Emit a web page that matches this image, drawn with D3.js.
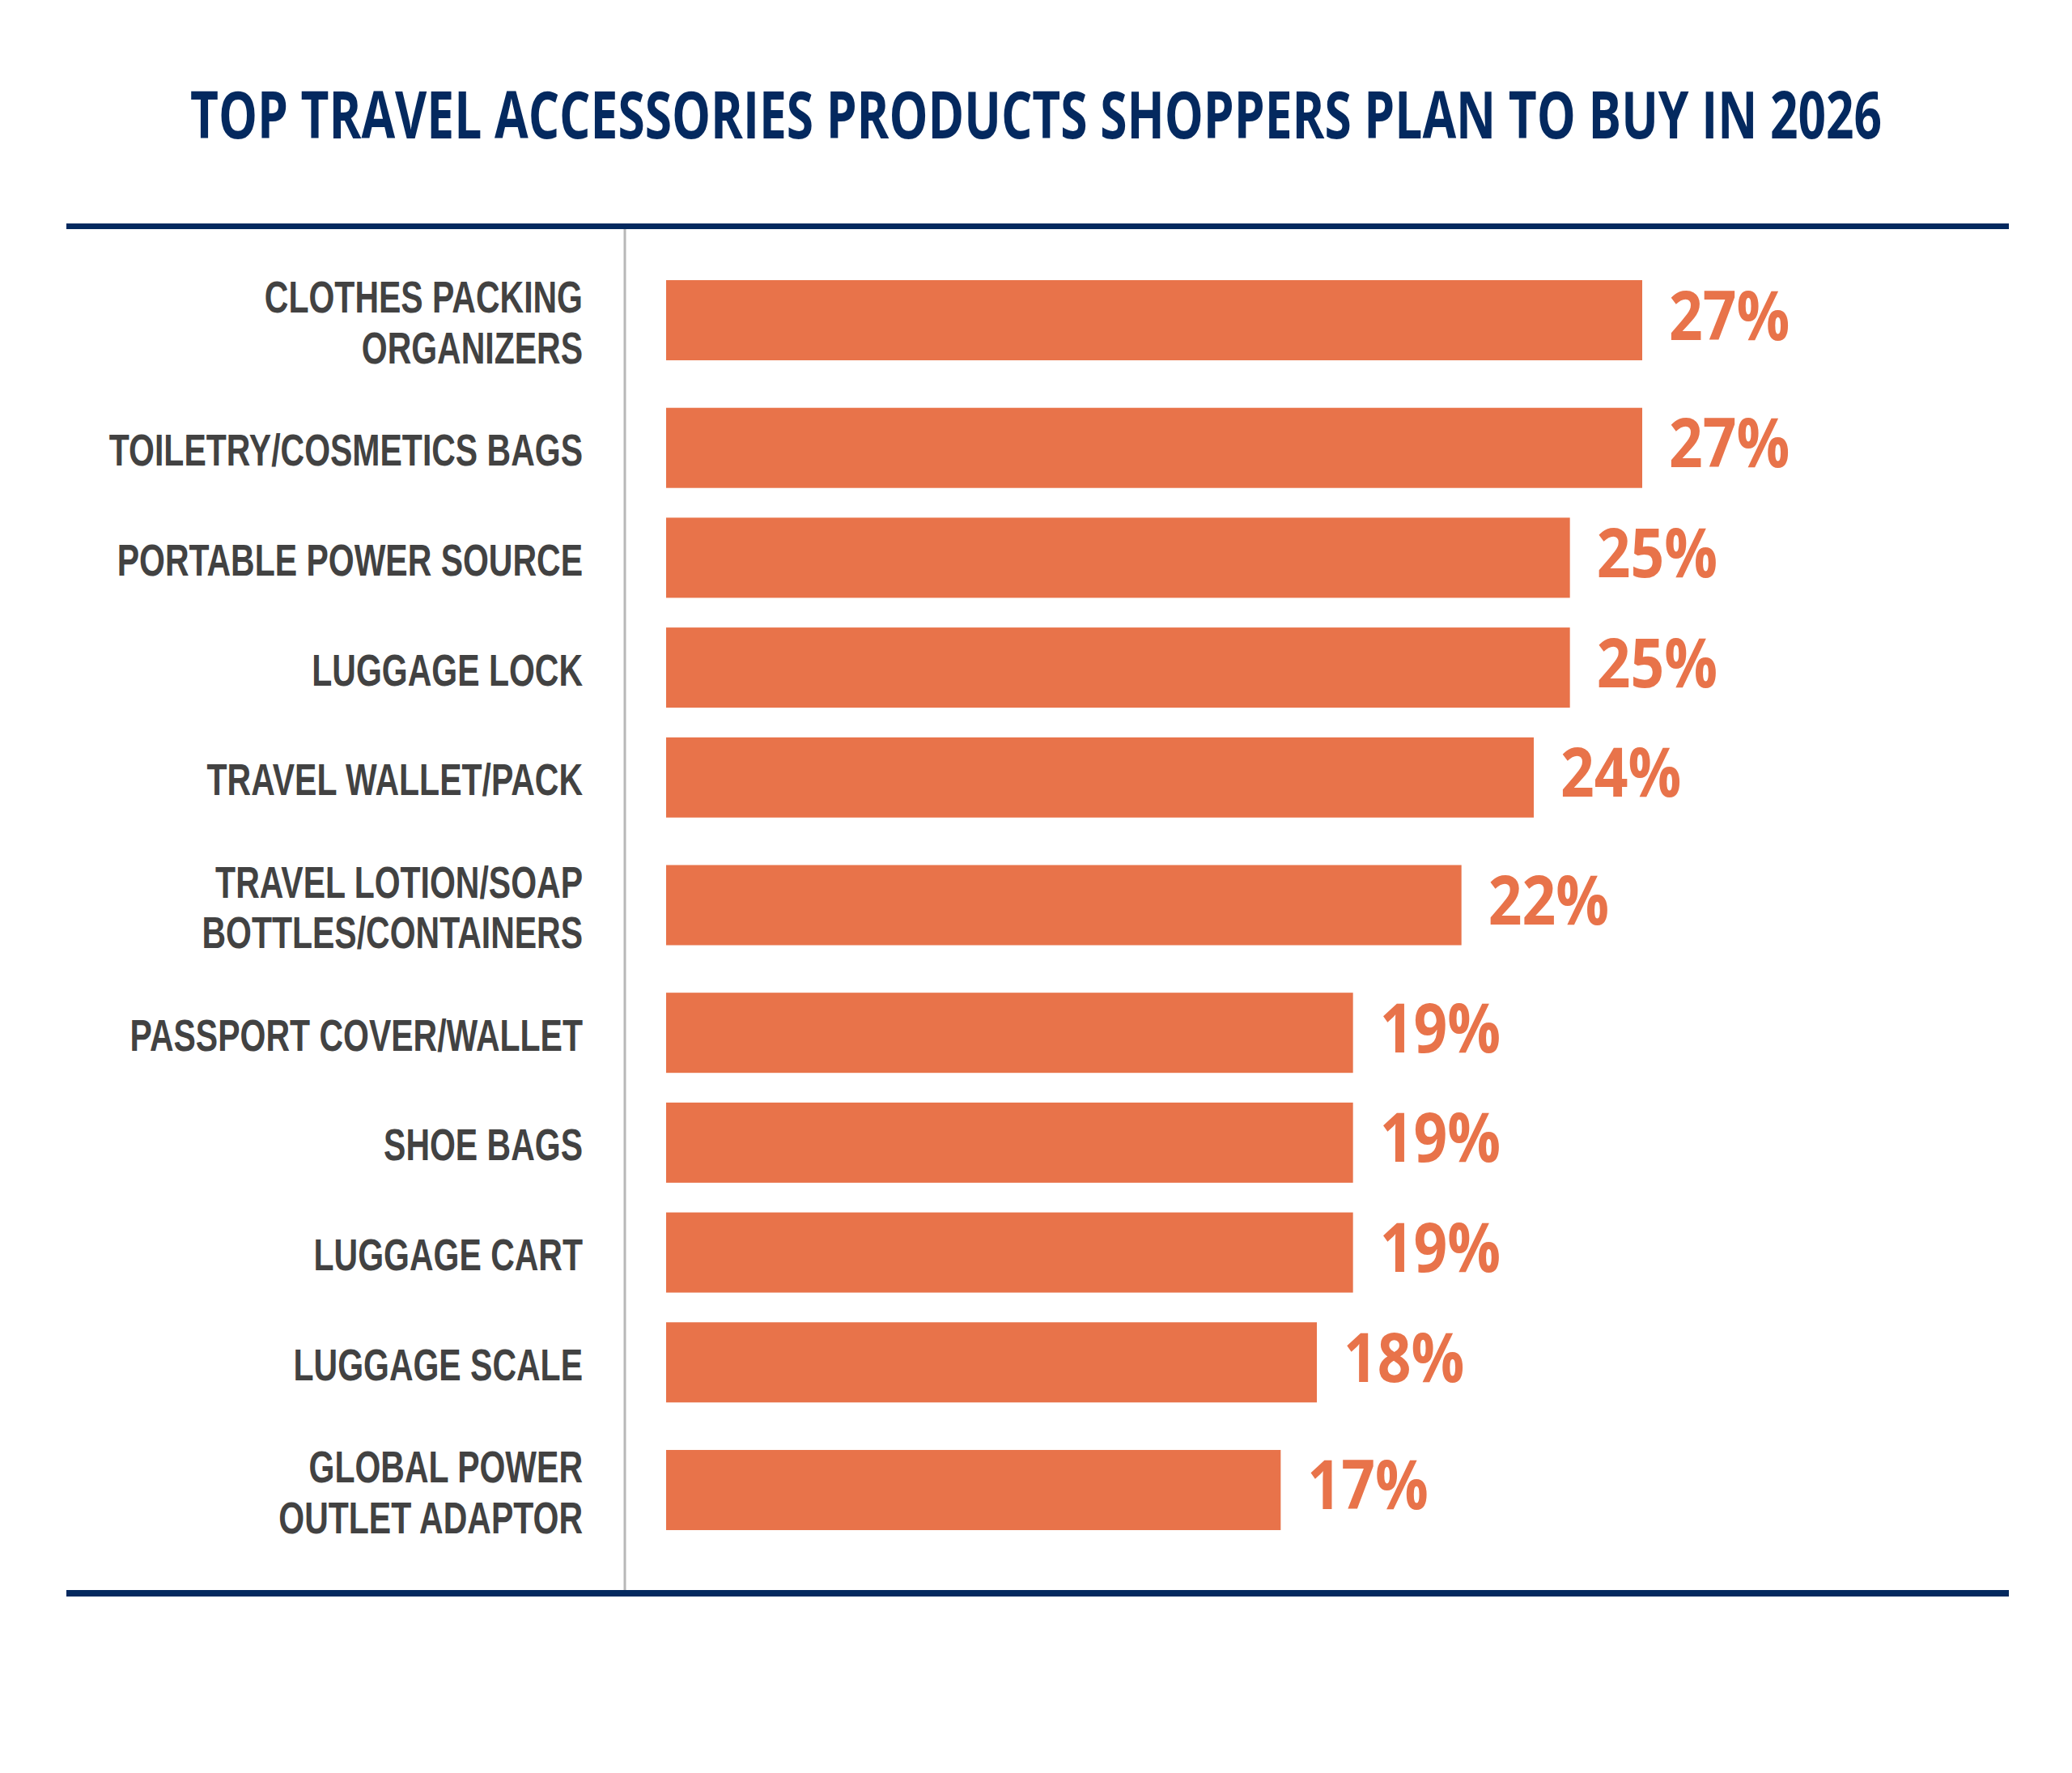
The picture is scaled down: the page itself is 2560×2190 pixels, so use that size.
<!DOCTYPE html>
<html>
<head>
<meta charset="utf-8">
<script src="https://cdn.jsdelivr.net/npm/d3@7"></script>
<style>
  html, body { margin: 0; padding: 0; background: #fff; }
  svg { display: block; }
</style>
</head>
<body>
<svg id="chart"></svg>
<script>
// data
const titleText = "TOP TRAVEL ACCESSORIES PRODUCTS SHOPPERS PLAN TO BUY IN 2026";
const categories = [
  ["CLOTHES PACKING", "ORGANIZERS"],
  ["TOILETRY/COSMETICS BAGS"],
  ["PORTABLE POWER SOURCE"],
  ["LUGGAGE LOCK"],
  ["TRAVEL WALLET/PACK"],
  ["TRAVEL LOTION/SOAP", "BOTTLES/CONTAINERS"],
  ["PASSPORT COVER/WALLET"],
  ["SHOE BAGS"],
  ["LUGGAGE CART"],
  ["LUGGAGE SCALE"],
  ["GLOBAL POWER", "OUTLET ADAPTOR"]
];
const values = [27, 27, 25, 25, 24, 22, 19, 19, 19, 18, 17];

const W = 2560, H = 2190;
const NAVY = "#04295f", ORANGE = "#e8734a", GREY = "#424242";

const svg = d3.select("#chart").attr("width", W).attr("height", H);

// rows with two-line labels get a taller slot
const rows = categories.map((lines, i) => ({ lines, value: values[i], units: lines.length > 1 ? 1.324 : 1 }));
let acc = 0;
rows.forEach(r => { r.mid = acc + r.units / 2; acc += r.units; });

const y = d3.scaleLinear().domain([0, acc]).range([305.7, 305.7 + acc * 135.7]);
const x = d3.scaleLinear().domain([0, 27]).range([823, 2029]);
const barH = 99;

// title
svg.append("g")
  .attr("transform", `translate(${W / 2},171) scale(0.755,1)`)
  .append("text")
  .attr("text-anchor", "middle")
  .style("font-family", "'Open Sans', sans-serif")
  .style("font-weight", 700)
  .style("font-size", "80px")
  .style("fill", NAVY)
  .text(titleText);

// frame rules
svg.append("rect").attr("x", 82).attr("y", 276).attr("width", 2400).attr("height", 7).attr("fill", NAVY);
svg.append("rect").attr("x", 82).attr("y", 1964).attr("width", 2400).attr("height", 8).attr("fill", NAVY);
svg.append("line")
  .attr("x1", 772).attr("x2", 772).attr("y1", 283).attr("y2", 1964)
  .attr("stroke", "#b8b8b8").attr("stroke-width", 3);

// bars
svg.selectAll("rect.bar").data(rows).enter().append("rect")
  .attr("class", "bar")
  .attr("x", x(0))
  .attr("y", d => y(d.mid) - barH / 2)
  .attr("width", d => x(d.value) - x(0))
  .attr("height", barH)
  .attr("fill", ORANGE);

// category labels, one text per row, lines as tspans
const lineGap = 63;
const lbl = svg.selectAll("g.lbl").data(rows).enter().append("g")
  .attr("class", "lbl")
  .attr("transform", d => `translate(720,${y(d.mid)}) scale(0.732,1)`)
  .append("text")
  .attr("text-anchor", "end")
  .style("font-family", "'Liberation Sans', Arial, sans-serif")
  .style("font-weight", 700)
  .style("font-size", "56px")
  .style("fill", GREY);
lbl.selectAll("tspan").data(d => d.lines.map((t, j) => ({ t, j, n: d.lines.length }))).enter()
  .append("tspan")
  .attr("x", 0)
  .attr("y", d => 22 + (d.j - (d.n - 1) / 2) * lineGap)
  .text(d => d.t);

// value labels
svg.selectAll("g.val").data(rows).enter().append("g")
  .attr("class", "val")
  .attr("transform", d => `translate(${x(d.value) + 33},${y(d.mid) + 24}) scale(0.86,1)`)
  .append("text")
  .style("font-family", "'Open Sans', sans-serif")
  .style("font-weight", 700)
  .style("font-size", "85px")
  .style("fill", ORANGE)
  .text(d => d.value + "%");
</script>
</body>
</html>
